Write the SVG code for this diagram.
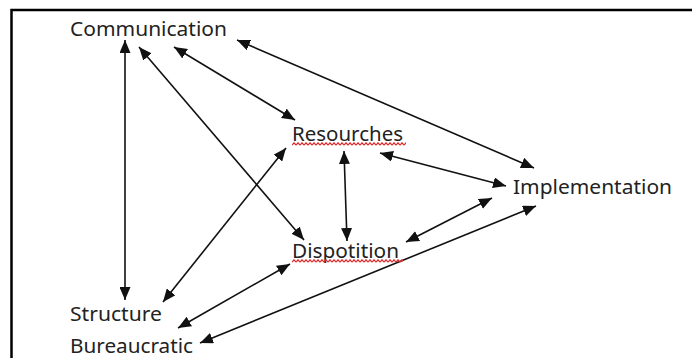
<svg xmlns="http://www.w3.org/2000/svg" width="692" height="358" viewBox="0 0 692 358">
<style>
.lbl{font-family:"Noto Sans","Open Sans","Liberation Sans",sans-serif;font-size:20px;fill:#222}
.cn{stroke:#111;stroke-width:1.6;fill:none;marker-start:url(#ah);marker-end:url(#ah)}
.frame{stroke:#000;stroke-width:2.5;fill:none}
</style>
<defs>
<marker id="ah" markerUnits="userSpaceOnUse" markerWidth="13" markerHeight="11" refX="13" refY="5.5" orient="auto-start-reverse" viewBox="0 0 13 11">
<path d="M0,0 L13,5.5 L0,11 z" fill="#111"/>
</marker>
<pattern id="sq" patternUnits="userSpaceOnUse" x="0" y="142" width="4" height="4">
<polyline points="0,3.2 2,0.8 4,3.2" fill="none" stroke="#e02828" stroke-width="1.2"/>
</pattern>
<pattern id="sq2" patternUnits="userSpaceOnUse" x="0" y="259" width="4" height="4">
<polyline points="0,3.2 2,0.8 4,3.2" fill="none" stroke="#e02828" stroke-width="1.2"/>
</pattern>
</defs>
<path class="frame" d="M11.5,358 V10 H692"/>
<g id="connectors">
<line class="cn" x1="125" y1="40" x2="125" y2="300"/>
<line class="cn" x1="139" y1="47" x2="304" y2="240"/>
<line class="cn" x1="174" y1="47" x2="295" y2="120"/>
<line class="cn" x1="237" y1="40" x2="534" y2="168"/>
<line class="cn" x1="163" y1="302" x2="286" y2="148"/>
<line class="cn" x1="344" y1="151" x2="347" y2="241"/>
<line class="cn" x1="380" y1="153" x2="506" y2="186"/>
<line class="cn" x1="406" y1="242" x2="492" y2="198"/>
<line class="cn" x1="178" y1="328" x2="290" y2="264"/>
<line class="cn" x1="200" y1="343" x2="536" y2="206"/>
</g>
<g id="communication"><text class="lbl" x="70" y="36" textLength="157" lengthAdjust="spacingAndGlyphs">Communication</text></g>
<g id="resourches"><text class="lbl" x="292" y="141" textLength="111" lengthAdjust="spacingAndGlyphs">Resourches</text><rect x="292" y="142" width="114" height="4" fill="url(#sq)"/></g>
<g id="implementation"><text class="lbl" x="513" y="194" textLength="159" lengthAdjust="spacingAndGlyphs">Implementation</text></g>
<g id="dispotition"><text class="lbl" x="292" y="258" textLength="107" lengthAdjust="spacingAndGlyphs">Dispotition</text><rect x="292" y="259" width="111" height="4" fill="url(#sq2)"/></g>
<g id="structure"><text class="lbl" x="70" y="321" textLength="92" lengthAdjust="spacingAndGlyphs">Structure</text></g>
<g id="bureaucratic"><text class="lbl" x="70" y="353" textLength="123" lengthAdjust="spacingAndGlyphs">Bureaucratic</text></g>
</svg>
